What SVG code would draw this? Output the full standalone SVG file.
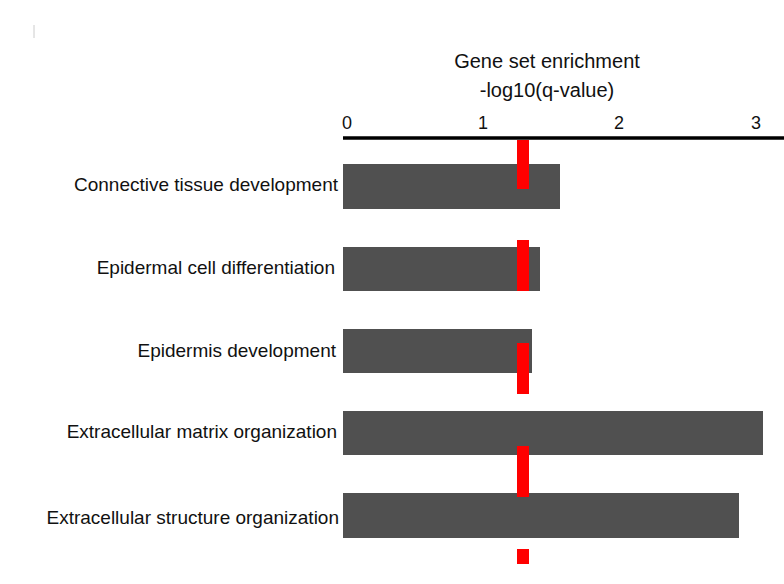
<svg xmlns="http://www.w3.org/2000/svg" width="784" height="584" viewBox="0 0 784 584">
<style>
text{font-family:"Liberation Sans",Arial,sans-serif;font-size:19px;fill:#111}
.bar{fill:#505050}
.red{fill:#ff0000}
.lab{text-anchor:end}
.t{text-anchor:middle;font-size:18px}
</style>
<rect width="784" height="584" fill="#fff"/>
<line x1="34" y1="25" x2="34" y2="38" stroke="#ccc" stroke-width="1"/>
<g id="axis">
<text x="547" y="68" class="t" style="font-size:20px">Gene set enrichment</text>
<text x="547" y="97" class="t" style="font-size:20px">-log10(q-value)</text>
<line x1="343" y1="138" x2="784" y2="138" stroke="#000" stroke-width="3.5"/>
<text x="347" y="129" class="t">0</text>
<text x="483" y="129" class="t">1</text>
<text x="619" y="129" class="t">2</text>
<text x="756" y="129" class="t">3</text>
</g>
<g id="bars">
<rect class="bar" x="343" y="164" width="217" height="45"/>
<rect class="bar" x="343" y="247" width="197" height="44"/>
<rect class="bar" x="343" y="329" width="189" height="44"/>
<rect class="bar" x="343" y="411" width="420" height="44"/>
<rect class="bar" x="343" y="493" width="396" height="45"/>
</g>
<g id="labels">
<text class="lab" x="338" y="191">Connective tissue development</text>
<text class="lab" x="335" y="274">Epidermal cell differentiation</text>
<text class="lab" x="336" y="357">Epidermis development</text>
<text class="lab" x="337" y="438">Extracellular matrix organization</text>
<text class="lab" x="339" y="524">Extracellular structure organization</text>
</g>
<g id="marks">
<rect class="red" x="517" y="140" width="12" height="49"/>
<rect class="red" x="517" y="240" width="12" height="51"/>
<rect class="red" x="517" y="343" width="12" height="51"/>
<rect class="red" x="517" y="446" width="12" height="51"/>
<rect class="red" x="517" y="549" width="12" height="15"/>
</g>
</svg>
